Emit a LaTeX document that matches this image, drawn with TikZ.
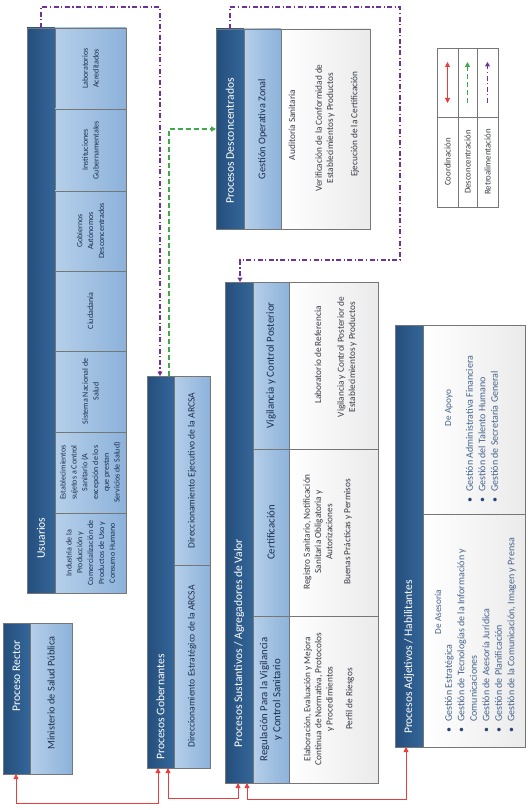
\documentclass[tikz,border=0pt]{standalone}
\usepackage{fontspec}
\setmainfont{Carlito}
\usetikzlibrary{arrows.meta,calc}
\definecolor{dkA}{RGB}{36,78,124}
\definecolor{dkB}{RGB}{52,102,152}
\definecolor{ltA}{RGB}{182,207,234}
\definecolor{ltB}{RGB}{140,178,218}
\definecolor{bordc}{RGB}{118,118,118}
\definecolor{navy}{RGB}{28,46,76}
\definecolor{txt}{RGB}{55,60,70}
\definecolor{lstc}{RGB}{70,100,140}
\definecolor{bulc}{RGB}{40,70,120}
\definecolor{redc}{RGB}{232,62,62}
\definecolor{grnc}{RGB}{62,170,72}
\definecolor{purc}{RGB}{112,50,150}
\tikzset{
  boxbase/.style={draw=bordc, line width=0.6pt, inner sep=0pt, outer sep=0pt, anchor=north west},
  strip/.style={boxbase, left color=dkA, right color=dkB},
  cell/.style={boxbase, left color=ltA, right color=ltB},
  wcell/.style={boxbase, left color=white, right color=black!8},
  ttl/.style={rotate=90, text=white, font=\fontsize{11.6}{13.5}\selectfont, inner sep=0pt},
  subt/.style={rotate=90, text=navy, font=\fontsize{10.3}{12.3}\selectfont, align=center, inner sep=0pt},
  cnt/.style={rotate=90, text=txt, font=\fontsize{9.3}{11.2}\selectfont, align=center, inner sep=0pt},
  tiny/.style={rotate=90, text=navy, font=\fontsize{8}{10.8}\selectfont, align=center, inner sep=0pt},
  lst/.style={rotate=90, text=lstc, font=\fontsize{10}{12.5}\selectfont, inner sep=0pt, anchor=north west},
  coordl/.style={draw=redc, line width=0.9pt, {Triangle[width=5pt,length=5pt]}-{Triangle[width=5pt,length=5pt]}},
  desc/.style={draw=grnc, line width=1.2pt, dash pattern=on 5pt off 3pt, -{Triangle[width=5pt,length=5pt]}},
  retro/.style={draw=purc, line width=1.1pt, dash pattern=on 5pt off 2.5pt on 1.2pt off 2.5pt, -{Triangle[width=5pt,length=4.5pt]}},
}
\begin{document}
\begin{tikzpicture}[x=1pt,y=-1pt]
\useasboundingbox[fill=white] (0,0) rectangle (528,810);

% ---------------- Usuarios
\node[strip, minimum width=28pt, minimum height=565pt] (usu) at (27,28) {};
\node[cell, minimum width=71pt, minimum height=81pt] (u7) at (55,28) {};
\node[cell, minimum width=71pt, minimum height=82pt] (u6) at (55,109) {};
\node[cell, minimum width=71pt, minimum height=80pt] (u5) at (55,191) {};
\node[cell, minimum width=71pt, minimum height=80pt] (u4) at (55,271) {};
\node[cell, minimum width=71pt, minimum height=81pt] (u3) at (55,351) {};
\node[cell, minimum width=71pt, minimum height=81pt] (u2) at (55,432) {};
\node[cell, minimum width=71pt, minimum height=80pt] (u1) at (55,513) {};
\node[ttl] (usut) at (41,538) {Usuarios};
\node[tiny] (u1t) at (u1.center) {Industria de la\\Producción y\\Comercialización de\\Productos de Uso y\\Consumo Humano};
\node[tiny] (u2t) at (u2.center) {Establecimientos\\sujetos a Control\\Sanitario (A\\excepción de los\\que prestan\\Servicios de Salud)};
\node[tiny] (u3t) at (u3.center) {Sistema Nacional de\\Salud};
\node[tiny] (u4t) at (u4.center) {Ciudadanía};
\node[tiny] (u5t) at (u5.center) {Gobiernos\\Autónomos\\Desconcentrados};
\node[tiny] (u6t) at (u6.center) {Instituciones\\Gubernamentales};
\node[tiny] (u7t) at (u7.center) {Laboratorios\\Acreditados};

% ---------------- Proceso Rector
\node[strip, minimum width=27pt, minimum height=151pt] (rec) at (3,623) {};
\node[cell, minimum width=42pt, minimum height=151pt] (recl) at (30,623) {};
\node[ttl] (rect) at (16.5,676) {Proceso Rector};
\node[subt] (recs) at (51,693) {Ministerio de Salud Pública};

% ---------------- Procesos Gobernantes
\node[strip, minimum width=27pt, minimum height=392pt] (gob) at (147,376) {};
\node[cell, minimum width=36pt, minimum height=189pt] (gob1) at (174,376) {};
\node[cell, minimum width=36pt, minimum height=203pt] (gob2) at (174,565) {};
\node[ttl] (gobt) at (160.5,707) {Procesos Gobernantes};
\node[subt, font=\fontsize{9.6}{11}\selectfont] (gob1t) at (gob1.center) {Direccionamiento Ejecutivo de la ARCSA};
\node[subt, font=\fontsize{9.6}{11}\selectfont] (gob2t) at (gob2.center) {Direccionamiento Estratégico de la ARCSA};

% ---------------- Procesos Sustantivos
\node[strip, minimum width=28pt, minimum height=501pt] (sus) at (225,282) {};
\node[cell, minimum width=36pt, minimum height=167pt] (sv) at (253,282) {};
\node[cell, minimum width=36pt, minimum height=167pt] (sc) at (253,449) {};
\node[cell, minimum width=36pt, minimum height=167pt] (sr) at (253,616) {};
\node[wcell, minimum width=89pt, minimum height=167pt] (wv) at (289,282) {};
\node[wcell, minimum width=89pt, minimum height=167pt] (wc) at (289,449) {};
\node[wcell, minimum width=89pt, minimum height=167pt] (wr) at (289,616) {};
\node[ttl] (sust) at (239,643) {Procesos Sustantivos / Agregadores de Valor};
\node[subt, font=\fontsize{10.8}{12.8}\selectfont] (svt) at (sv.center) {Vigilancia y Control Posterior};
\node[subt, font=\fontsize{10.8}{12.8}\selectfont] (sct) at (sc.center) {Certificación};
\node[subt, font=\fontsize{10.8}{12.8}\selectfont] (srt) at (sr.center) {Regulación Para la Vigilancia\\y Control Sanitario};
\node[cnt] (wv1) at (318,355) {Laboratorio de Referencia};
\node[cnt] (wv2) at (347,357) {Vigilancia y Control Posterior de\\Establecimientos y Productos};
\node[cnt] (wc1) at (318,532) {Registro Sanitario, Notificación\\Sanitaria Obligatoria y\\Autorizaciones};
\node[cnt] (wc2) at (348,532) {Buenas Prácticas y Permisos};
\node[cnt] (wr1) at (319,699) {Elaboración, Evaluación y Mejora\\Continua de Normativa, Protocolos\\y Procedimientos};
\node[cnt] (wr2) at (350,699) {Perfil de Riesgos};

% ---------------- Procesos Adjetivos
\node[strip, minimum width=28pt, minimum height=422pt] (adj) at (395,325) {};
\node[wcell, minimum width=102pt, minimum height=189pt] (adja) at (423,325) {};
\node[wcell, minimum width=102pt, minimum height=233pt] (adjb) at (423,514) {};
\node[ttl] (adjt) at (409,657) {Procesos Adjetivos / Habilitantes};
\node[cnt, text=lstc] (asesh) at (438,612) {De Asesoría};
\node[lst] (ases) at (443,733) {\begin{tabular}{@{}l@{\hspace{6pt}}l@{}}
{\color{bulc}\textbullet} & Gestión Estratégica\\
{\color{bulc}\textbullet} & Gestión de Tecnologías de la Información y\\
 & Comunicaciones\\
{\color{bulc}\textbullet} & Gestión de Asesoría Jurídica\\
{\color{bulc}\textbullet} & Gestión de Planificación\\
{\color{bulc}\textbullet} & Gestión de la Comunicación, Imagen y Prensa
\end{tabular}};
\node[cnt, text=lstc] (apoyh) at (449,408) {De Apoyo};
\node[lst] (apoy) at (464,503) {\begin{tabular}{@{}l@{\hspace{6pt}}l@{}}
{\color{bulc}\textbullet} & Gestión Administrativa Financiera\\
{\color{bulc}\textbullet} & Gestión del Talento Humano\\
{\color{bulc}\textbullet} & Gestión de Secretaría General
\end{tabular}};

% ---------------- Procesos Desconcentrados
\node[strip, minimum width=28pt, minimum height=200pt] (dsc) at (216,29) {};
\node[cell, minimum width=37pt, minimum height=200pt] (dscl) at (244,29) {};
\node[wcell, minimum width=89pt, minimum height=200pt] (dscw) at (281,29) {};
\node[ttl] (dsct) at (230,141) {Procesos Desconcentrados};
\node[subt] (dscs) at (dscl.center) {Gestión Operativa Zonal};
\node[cnt] (dw1) at (292,125) {Auditoría Sanitaria};
\node[cnt] (dw2) at (325,128) {Verificación de la Conformidad de\\Establecimientos y Productos};
\node[cnt] (dw3) at (355,124) {Ejecución de la Certificación};

% ---------------- Legend
\node[boxbase, fill=white, minimum width=61pt, minimum height=159pt] (leg) at (437,48) {};
\draw[draw=bordc, line width=0.6pt] (437,117) -- (498,117) (458,48) -- (458,207) (477,48) -- (477,207);
\node[cnt, font=\fontsize{8.8}{10}\selectfont] (lg1) at (447.5,162) {Coordinación};
\node[cnt, font=\fontsize{8.8}{10}\selectfont] (lg2) at (467.5,162) {Desconcentración};
\node[cnt, font=\fontsize{8.8}{10}\selectfont] (lg3) at (487.5,162) {Retroalimentación};
\coordinate (la1) at (447.5,103); \coordinate (lb1) at (447.5,62);
\coordinate (la2) at (467.5,103); \coordinate (lb2) at (467.5,62);
\coordinate (la3) at (487.5,103); \coordinate (lb3) at (487.5,62);
\draw[coordl] (la1) -- (lb1);
\draw[desc] (la2) -- (lb2);
\draw[retro] (la3) -- (lb3);

% ---------------- Connectors
\draw[coordl] ([xshift=13pt]rec.south west) -- ++(0,29) -| ([xshift=11pt]gob.south west);
\draw[coordl] ([xshift=21pt]gob.south west) -- ++(0,30) -| ([xshift=13pt]sus.south west);
\draw[coordl] ([xshift=22pt]sus.south west) -- ++(0,16) -| ([xshift=11pt]adj.south west);
\draw[desc] ([xshift=22pt]gob.north west) |- (dsc.west);
\draw[retro] (usu.north) -- ++(0,-21) -| ([xshift=13pt]gob.north west);
\draw[retro] (dsc.north) -- ++(0,-22) -- ++(170,0) |- ([xshift=15pt,yshift=22pt]sus.north west) -- ([xshift=15pt]sus.north west);
\end{tikzpicture}
\end{document}
